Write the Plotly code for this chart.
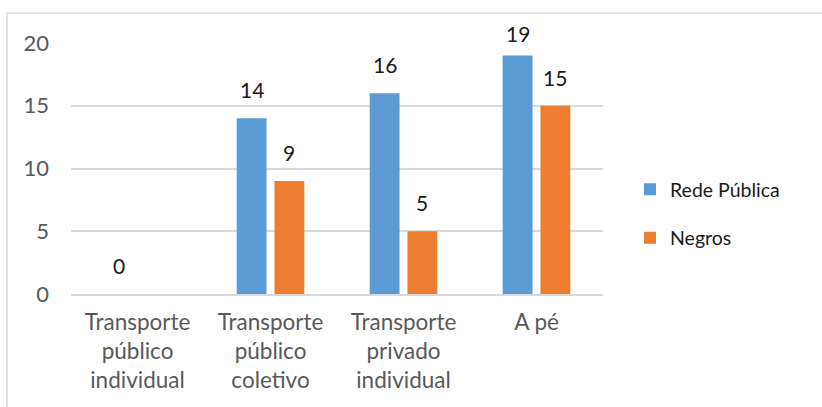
import plotly.graph_objects as go

# Chart data
categories = [
    "Transporte<br>público<br>individual",
    "Transporte<br>público<br>coletivo",
    "Transporte<br>privado<br>individual",
    "A pé",
]
series_names = ["Rede Pública", "Negros"]
rede_publica = [0, 14, 16, 19]
negros = [None, 9, 5, 15]
y_ticks = [0, 5, 10, 15, 20]

# Layout geometry (pixels)
W, H = 822, 407
M_L, M_R, M_T, M_B = 71, 219, 43, 113
PLOT_W = W - M_L - M_R
PLOT_H = H - M_T - M_B
Y_MAX = 20
BARGAP = 0.432
BARGROUPGAP = 0.21

FONT = "Lato, Carlito, Calibri, sans-serif"
BLUE = "#5B9BD5"
ORANGE = "#ED7D31"
GRID = "#d9d9d9"
AXIS_TXT = "#595959"
LABEL_TXT = "#1a1a1a"

fig = go.Figure()
for name, vals, color in [(series_names[0], rede_publica, BLUE),
                          (series_names[1], negros, ORANGE)]:
    fig.add_trace(go.Bar(
        x=categories, y=vals, name=name, legendgroup=name,
        marker=dict(color=color, line=dict(width=0)),
    ))

# Value labels above each bar, kept inside the plot area like the source chart
cat_px = PLOT_W / len(categories)
slot_px = cat_px * (1 - BARGAP) / 2
px_per_unit = PLOT_H / Y_MAX
gap_units = 19 / px_per_unit
annotations = []
for i, vals in enumerate([rede_publica, negros]):
    shift = (i - 0.5) * slot_px
    for cat, v in zip(categories, vals):
        if v is None:
            continue
        annotations.append(dict(
            x=cat, y=min(v + gap_units, Y_MAX), xref="x", yref="y",
            text=str(v), showarrow=False, xshift=shift, yshift=-5,
            yanchor="bottom", xanchor="center",
            font=dict(family=FONT, size=21, color=LABEL_TXT),
        ))

# Light frame around the chart area
FRAME_L, FRAME_T = 7, 13
shapes = [dict(
    type="rect", xref="paper", yref="paper",
    x0=(FRAME_L - M_L) / PLOT_W, x1=(W + 10 - M_L) / PLOT_W,
    y0=-(H + 10 - M_T - PLOT_H) / PLOT_H, y1=1 + (M_T - FRAME_T) / PLOT_H,
    line=dict(color=GRID, width=1.5), layer="below",
)]

fig.update_layout(
    width=W, height=H,
    margin=dict(l=M_L, r=M_R, t=M_T, b=M_B, pad=0),
    paper_bgcolor="white", plot_bgcolor="white",
    barmode="group", bargap=BARGAP, bargroupgap=BARGROUPGAP,
    font=dict(family=FONT, size=20, color=AXIS_TXT),
    showlegend=True,
    legend=dict(
        x=(630 - M_L) / PLOT_W, xanchor="left",
        y=0.32, yanchor="middle",
        font=dict(family=FONT, size=19.5, color=LABEL_TXT),
        traceorder="grouped", tracegroupgap=20,
        bgcolor="rgba(0,0,0,0)",
    ),
    annotations=annotations,
    shapes=shapes,
)
fig.update_xaxes(
    showline=True, linecolor=GRID, linewidth=1.5,
    showgrid=False, ticks="", ticklabelstandoff=7,
    tickfont=dict(family=FONT, size=22.5, color=AXIS_TXT),
)
fig.update_yaxes(
    range=[0, Y_MAX], tickvals=y_ticks, showgrid=True, gridcolor=GRID,
    gridwidth=1.5, zeroline=False, showline=False, ticks="",
    ticklabelstandoff=21,
    tickfont=dict(family=FONT, size=22, color=AXIS_TXT),
)

fig.write_html("out.html")
